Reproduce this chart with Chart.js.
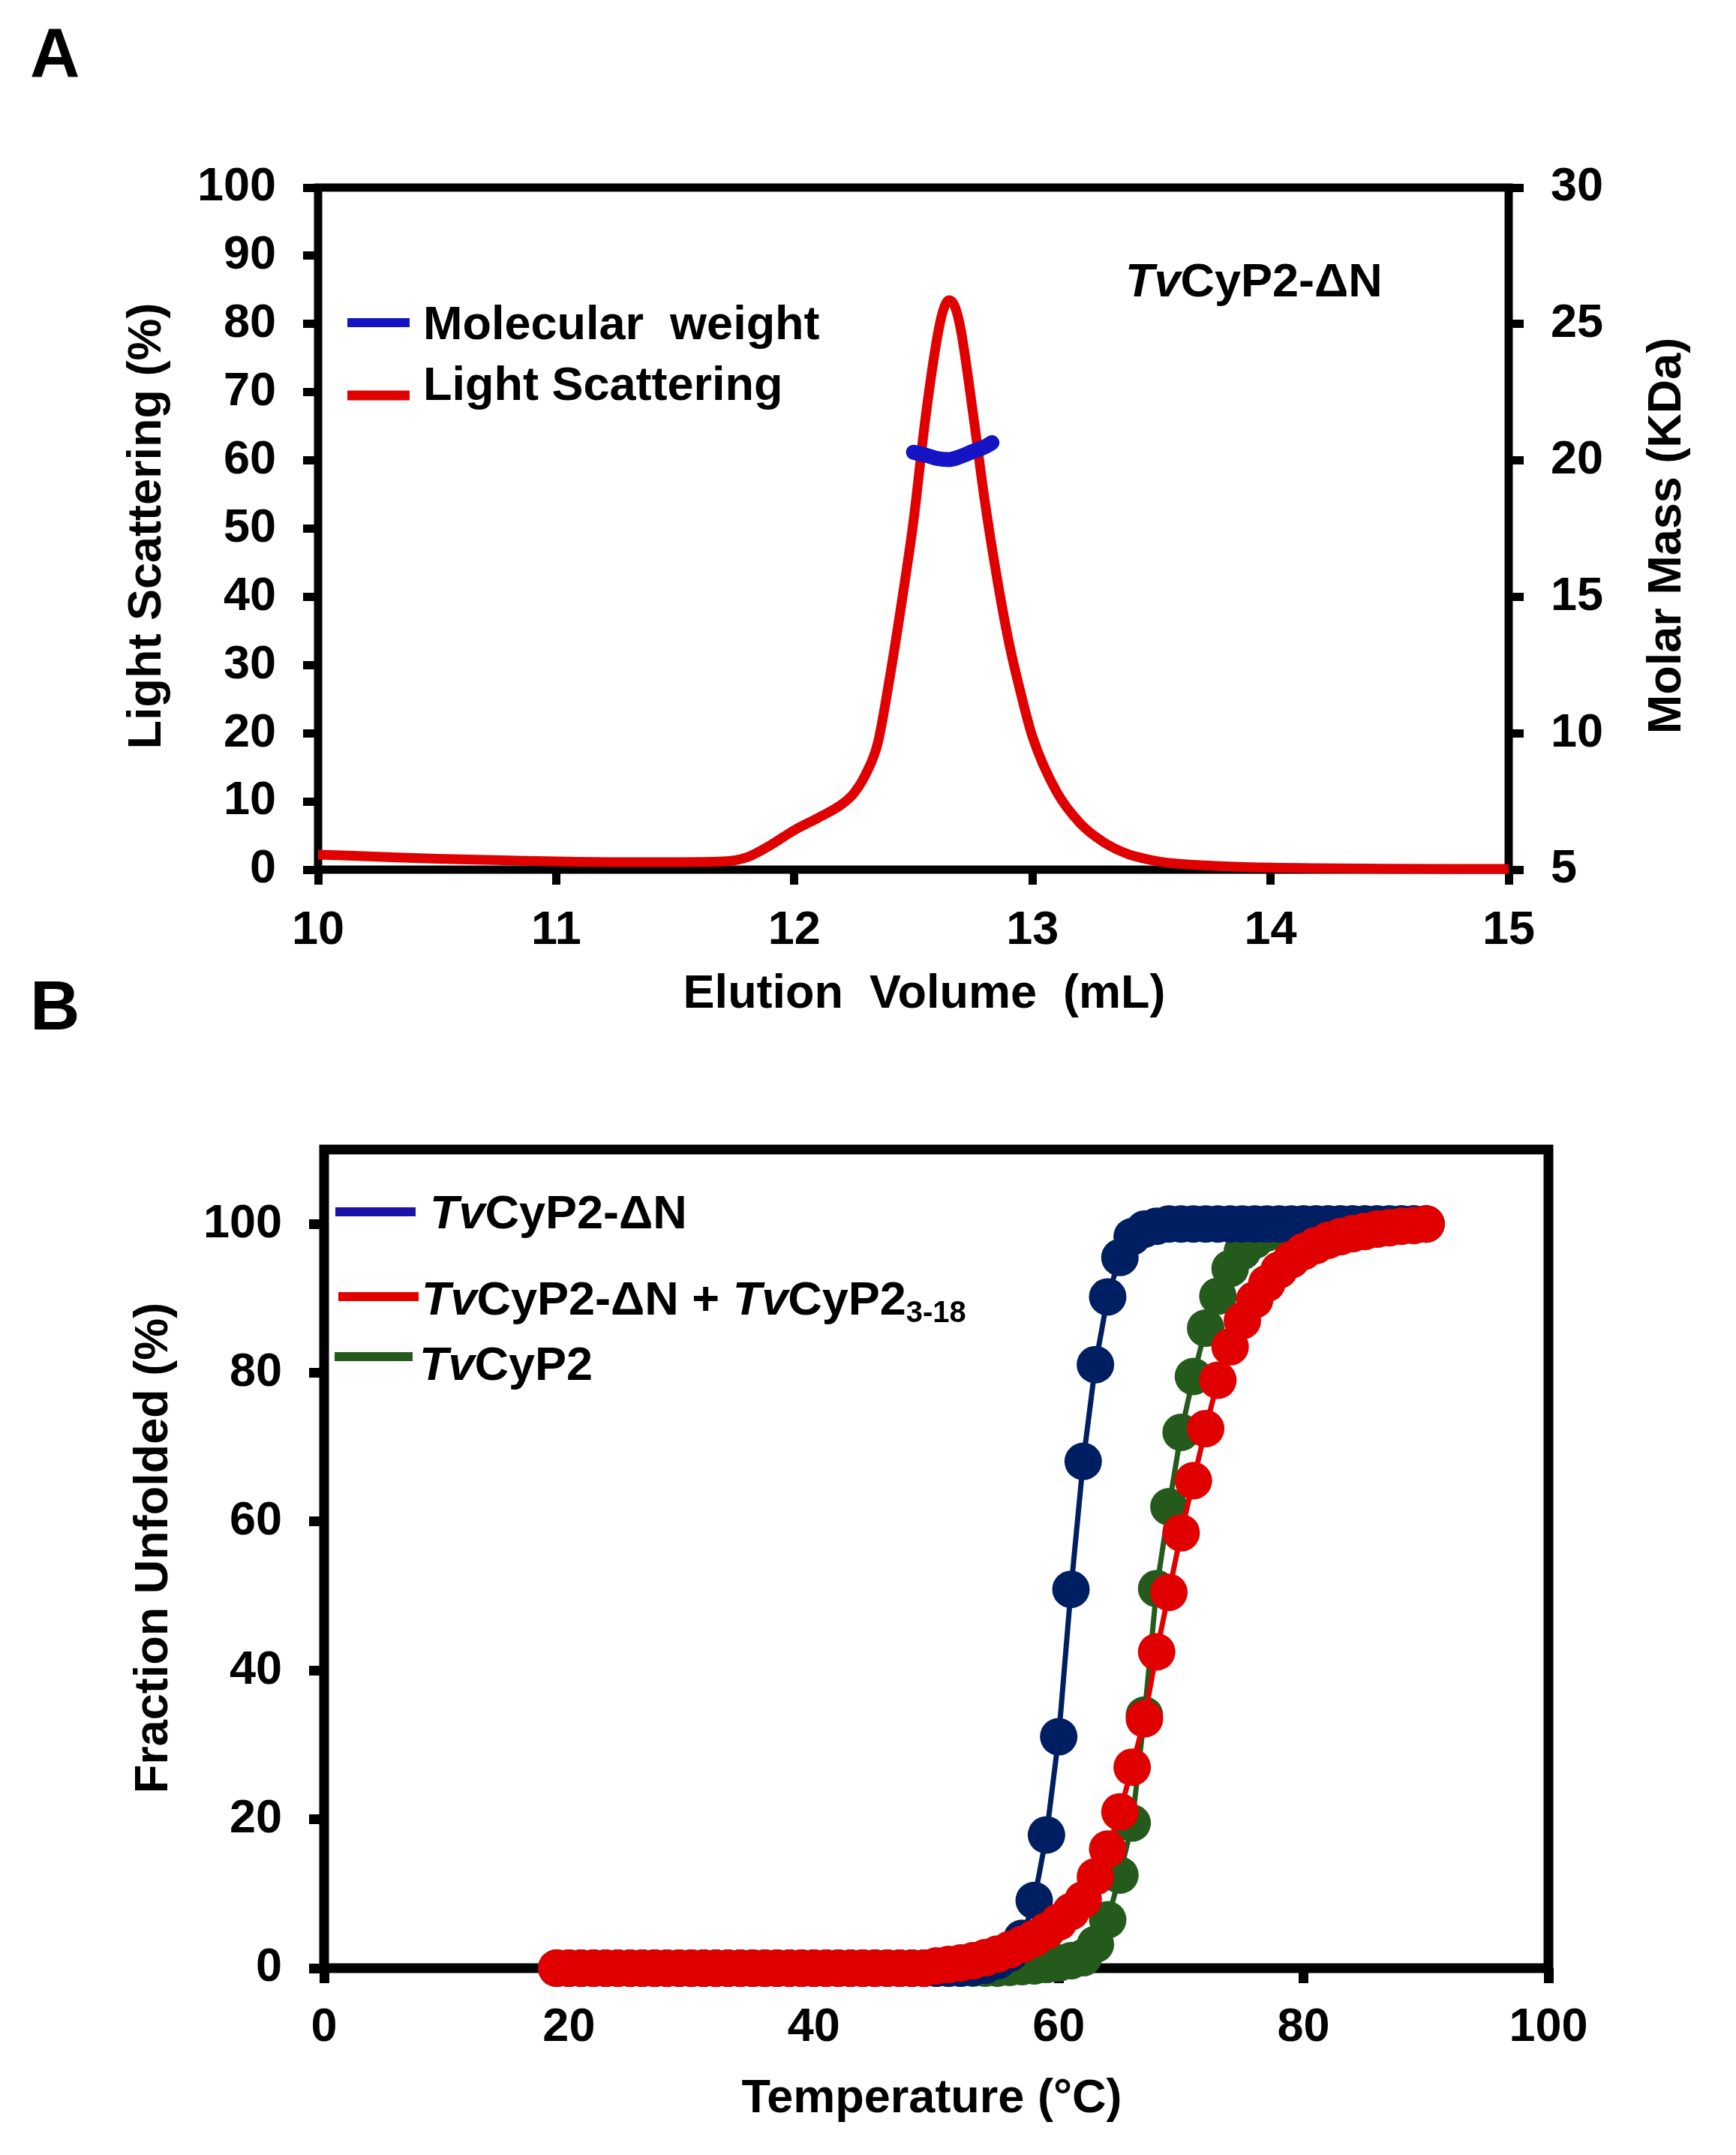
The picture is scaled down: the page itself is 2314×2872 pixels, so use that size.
<!DOCTYPE html>
<html>
<head>
<meta charset="utf-8">
<script src="https://cdn.jsdelivr.net/npm/chart.js@4.4.1/dist/chart.umd.min.js"></script>
<style>
  html, body { margin: 0; padding: 0; background: #fff; }
  #wrap { position: relative; width: 2314px; height: 2872px; }
  canvas { position: absolute; left: 0; top: 0; }
</style>
</head>
<body>
<div id="wrap">
  <canvas id="chartA" width="2314" height="2872"></canvas>
  <canvas id="chartB" width="2314" height="2872"></canvas>
</div>
<script>
// ---- panel A: light scattering + molar mass vs elution volume
const lsVolume = [10.0, 10.25, 10.5, 10.75, 11.0, 11.25, 11.5, 11.7, 11.8, 11.9, 12.0, 12.1, 12.2, 12.25,
  12.3, 12.35, 12.4, 12.45, 12.5, 12.55, 12.6, 12.625, 12.65, 12.675, 12.7, 12.75, 12.8, 12.85, 12.9,
  12.95, 13.0, 13.1, 13.2, 13.3, 13.4, 13.5, 13.6, 13.8, 14.0, 14.5, 15.0];
const lsSignal = [2.2, 1.9, 1.6, 1.4, 1.2, 1.1, 1.1, 1.2, 1.8, 3.6, 5.8, 7.6, 9.6, 11.2,
  14, 18.5, 28, 39, 51, 66, 78, 82, 83.5, 82.5, 79, 67, 54, 43, 33.5,
  26, 19.5, 11.5, 6.8, 4.0, 2.3, 1.4, 0.9, 0.5, 0.3, 0.15, 0.1];
const mwVolume = [12.50, 12.55, 12.60, 12.65, 12.70, 12.75, 12.80, 12.83];
const mwMass = [20.3, 20.2, 20.07, 20.03, 20.15, 20.33, 20.5, 20.65];

// ---- panel B: thermal unfolding
const tempC = [19, 20, 21, 22, 23, 24, 25, 26, 27, 28, 29, 30, 31, 32, 33, 34, 35, 36, 37, 38, 39,
  40, 41, 42, 43, 44, 45, 46, 47, 48, 49, 50, 51, 52, 53, 54, 55, 56, 57, 58, 59, 60, 61, 62, 63,
  64, 65, 66, 67, 68, 69, 70, 71, 72, 73, 74, 75, 76, 77, 78, 79, 80, 81, 82, 83, 84, 85, 86, 87,
  88, 89, 90];
const unfoldedDeltaN = [0, 0, 0, 0, 0, 0, 0, 0, 0, 0, 0, 0, 0, 0, 0, 0, 0, 0, 0, 0, 0,
  0, 0, 0, 0, 0, 0, 0, 0, 0, 0, 0, 0, 0, 0.1, 0.4, 1.0, 2.0, 4.0, 9.1, 17.9, 31.1, 50.9, 68.1, 81.1,
  90.2, 95.5, 98.3, 99.3, 99.7, 100, 100, 100, 100, 100, 100, 100, 100, 100, 100, 100, 100, 100, 100, 100, 100, 100, 100, 100,
  100, 100, 100];
const unfoldedPeptide = [0, 0, 0, 0, 0, 0, 0, 0, 0, 0, 0, 0, 0, 0, 0, 0, 0, 0, 0, 0, 0,
  0, 0, 0, 0, 0, 0, 0, 0, 0, 0, 0.3, 0.5, 0.7, 1.0, 1.4, 1.9, 2.5, 3.2, 4.0, 5.0, 6.2, 7.6, 9.2, 12.3,
  16, 21, 27, 33.5, 42.5, 50.5, 58.5, 65.5, 72.5, 79, 83.5, 87, 89.8, 92, 93.8, 95.2, 96.3, 97.1, 97.8, 98.3, 98.7, 99, 99.3, 99.5,
  99.7, 99.8, 100];
const unfoldedFull = [0, 0, 0, 0, 0, 0, 0, 0, 0, 0, 0, 0, 0, 0, 0, 0, 0, 0, 0, 0, 0,
  0, 0, 0, 0, 0, 0, 0, 0, 0, 0, 0, 0, 0, 0, 0, 0, 0.1, 0.2, 0.3, 0.5, 0.7, 1.0, 1.4, 3.2,
  6.5, 12.5, 19.5, 34, 51, 62, 72, 79.5, 86, 90.3, 94, 96.3, 97.8, 98.8, 99.4, 99.7, 100, 100, 100, 100, 100, 100, 100, 100,
  100, 100, 100];

const FONT = "'Liberation Sans', Arial, sans-serif";
Chart.defaults.font.family = FONT;
Chart.defaults.font.weight = 'bold';
Chart.defaults.font.size = 63;
Chart.defaults.color = '#000';

const pairs = (xs, ys) => xs.map((x, i) => ({ x: x, y: ys[i] }));

// draw a sequence of text pieces (italic / normal / subscript) starting at x
function drawRuns(ctx, x, y, runs) {
  ctx.save();
  ctx.fillStyle = '#000';
  ctx.textAlign = 'left';
  ctx.textBaseline = 'alphabetic';
  let cx = x;
  runs.forEach(r => {
    const size = r.size || 63;
    ctx.font = (r.italic ? 'italic ' : '') + 'bold ' + size + 'px ' + FONT;
    ctx.fillText(r.t, cx, y + (r.dy || 0));
    cx += ctx.measureText(r.t).width;
  });
  ctx.restore();
}

function drawVertical(ctx, text, x, y, size) {
  ctx.save();
  ctx.translate(x, y);
  ctx.rotate(-Math.PI / 2);
  ctx.font = 'bold ' + size + 'px ' + FONT;
  ctx.fillStyle = '#000';
  ctx.textAlign = 'center';
  ctx.textBaseline = 'alphabetic';
  ctx.fillText(text, 0, 0);
  ctx.restore();
}

function legendLine(ctx, x1, x2, y, color, width) {
  ctx.save();
  ctx.strokeStyle = color;
  ctx.lineWidth = width;
  ctx.beginPath();
  ctx.moveTo(x1, y);
  ctx.lineTo(x2, y);
  ctx.stroke();
  ctx.restore();
}

const framePlugin = {
  id: 'frame',
  beforeDatasetsDraw(chart, args, opts) {
    const a = chart.chartArea, ctx = chart.ctx;
    ctx.save();
    ctx.strokeStyle = '#000';
    ctx.lineWidth = opts.width;
    ctx.strokeRect(a.left, a.top, a.right - a.left, a.bottom - a.top);
    ctx.restore();
  }
};

const tickGrid = (w) => ({
  display: true, drawOnChartArea: false, drawTicks: true,
  tickLength: 20, tickWidth: w, tickColor: '#000'
});

// ---------------- chart A ----------------
const textA = {
  id: 'textA',
  afterDraw(chart) {
    const ctx = chart.ctx;
    drawRuns(ctx, 40, 102, [{ t: 'A', size: 92 }]);
    drawVertical(ctx, 'Light Scattering (%)', 214, 701, 63);
    drawVertical(ctx, 'Molar Mass (KDa)', 2240, 714, 63);
    ctx.save();
    ctx.font = 'bold 63px ' + FONT;
    ctx.textAlign = 'center';
    ctx.fillStyle = '#000';
    ctx.fillText('Elution  Volume  (mL)', 1232, 1343);
    ctx.restore();
    legendLine(ctx, 463, 546, 430, '#1414c4', 12);
    legendLine(ctx, 463, 546, 527, '#e00000', 13);
    drawRuns(ctx, 564, 452, [{ t: 'Molecular  weight' }]);
    drawRuns(ctx, 564, 533, [{ t: 'Light Scattering' }]);
    drawRuns(ctx, 1500, 395, [{ t: 'Tv', italic: true }, { t: 'CyP2-\u0394N' }]);
  }
};

new Chart(document.getElementById('chartA'), {
  type: 'line',
  data: {
    datasets: [
      {
        label: 'Molecular weight',
        data: pairs(mwVolume, mwMass),
        yAxisID: 'y2',
        borderColor: '#1414c4',
        borderWidth: 20,
        borderCapStyle: 'round',
        pointRadius: 0,
        cubicInterpolationMode: 'monotone',
        clip: false
      },
      {
        label: 'Light Scattering',
        data: pairs(lsVolume, lsSignal),
        yAxisID: 'y',
        borderColor: '#e00000',
        borderWidth: 13,
        pointRadius: 0,
        cubicInterpolationMode: 'monotone',
        clip: false
      }
    ]
  },
  options: {
    responsive: false,
    animation: false,
    events: [],
    layout: { padding: { top: 250, right: 0, bottom: 1542, left: 0 } },
    plugins: { legend: { display: false }, tooltip: { enabled: false }, frame: { width: 11 } },
    scales: {
      x: {
        type: 'linear', min: 10, max: 15,
        ticks: { stepSize: 1, padding: 24, maxRotation: 0, autoSkip: false },
        grid: tickGrid(11), border: { display: false },
        afterFit: s => { s.height = 171; }
      },
      y: {
        type: 'linear', position: 'left', min: 0, max: 100,
        ticks: { stepSize: 10, padding: 36 },
        grid: tickGrid(11), border: { display: false },
        afterFit: s => { s.width = 424; }
      },
      y2: {
        type: 'linear', position: 'right', min: 5, max: 30,
        ticks: { stepSize: 5, padding: 36 },
        grid: tickGrid(11), border: { display: false },
        afterFit: s => { s.width = 303; }
      }
    }
  },
  plugins: [framePlugin, textA]
});

// ---------------- chart B ----------------
const textB = {
  id: 'textB',
  afterDraw(chart) {
    const ctx = chart.ctx;
    drawRuns(ctx, 40, 1372, [{ t: 'B', size: 92 }]);
    drawVertical(ctx, 'Fraction Unfolded (%)', 223, 2063, 63);
    ctx.save();
    ctx.font = 'bold 63px ' + FONT;
    ctx.textAlign = 'center';
    ctx.fillStyle = '#000';
    ctx.fillText('Temperature (\u00B0C)', 1242, 2815);
    ctx.restore();
    legendLine(ctx, 447, 554, 1615, '#1c14a8', 12);
    legendLine(ctx, 451, 558, 1728, '#e00000', 12);
    legendLine(ctx, 446, 550, 1808, '#245a1c', 12);
    drawRuns(ctx, 573, 1637, [{ t: 'Tv', italic: true }, { t: 'CyP2-\u0394N' }]);
    drawRuns(ctx, 562, 1752, [{ t: 'Tv', italic: true }, { t: 'CyP2-\u0394N + ' },
      { t: 'Tv', italic: true }, { t: 'CyP2' }, { t: '3-18', size: 40, dy: 10 }]);
    drawRuns(ctx, 559, 1839, [{ t: 'Tv', italic: true }, { t: 'CyP2' }]);
  }
};

const meltSet = (label, values, color, order) => ({
  label: label,
  data: pairs(tempC, values),
  borderColor: color,
  backgroundColor: color,
  pointBackgroundColor: color,
  pointBorderColor: color,
  pointBorderWidth: 0,
  borderWidth: 7,
  pointRadius: 25,
  tension: 0,
  order: order,
  clip: false
});

new Chart(document.getElementById('chartB'), {
  type: 'line',
  data: {
    datasets: [
      meltSet('TvCyP2-\u0394N', unfoldedDeltaN, '#001e62', 1),
      meltSet('TvCyP2-\u0394N + TvCyP2 3-18', unfoldedPeptide, '#e00000', 0),
      meltSet('TvCyP2', unfoldedFull, '#245a1c', 2)
    ]
  },
  options: {
    responsive: false,
    animation: false,
    events: [],
    layout: { padding: { top: 1532, right: 250, bottom: 0, left: 0 } },
    plugins: { legend: { display: false }, tooltip: { enabled: false }, frame: { width: 13 } },
    scales: {
      x: {
        type: 'linear', min: 0, max: 100,
        ticks: { stepSize: 20, padding: 22, maxRotation: 0, autoSkip: false },
        grid: tickGrid(13), border: { display: false },
        afterFit: s => { s.height = 249; }
      },
      y: {
        type: 'linear', min: 0, max: 110,
        ticks: { stepSize: 20, padding: 36 },
        afterBuildTicks: s => { s.ticks = s.ticks.filter(t => t.value <= 100); },
        grid: tickGrid(13), border: { display: false },
        afterFit: s => { s.width = 432; }
      }
    }
  },
  plugins: [framePlugin, textB]
});
</script>
</body>
</html>
